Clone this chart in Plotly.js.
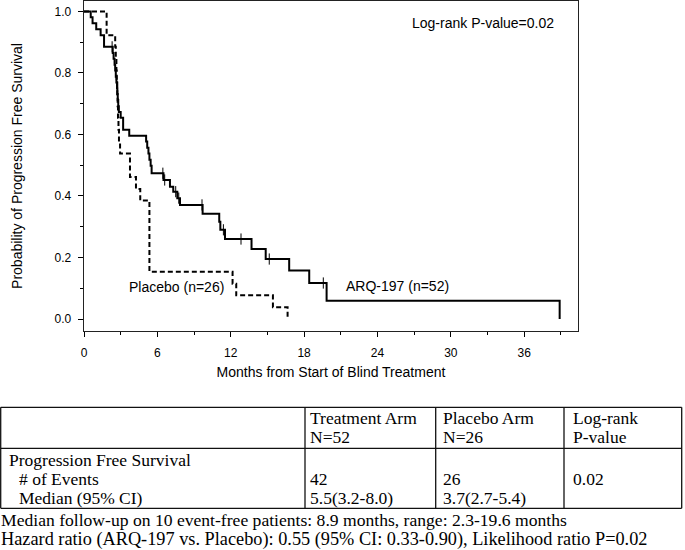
<!DOCTYPE html>
<html>
<head>
<meta charset="utf-8">
<script src="https://cdn.plot.ly/plotly-3.0.1.min.js"></script>
<style>html,body{margin:0;padding:0;background:#fff;}#chart{width:685px;height:550px;}</style>
</head>
<body>
<div id="chart"></div>
<script>
// ---- Data ----
// ARQ-197 (n=52): event times (months) and survival after each event
const arqTimes = [0, 0.55, 0.7, 1.0, 1.36, 1.64, 2.35, 2.42, 2.5, 2.55, 2.6, 2.65, 2.7, 2.73, 2.76, 2.8, 2.85,
  3.0, 3.2, 3.7, 5.08, 5.17, 5.27, 5.35, 5.45, 5.53, 6.5, 7.03, 7.3, 7.63, 7.85, 9.7, 11.06, 11.15, 11.53,
  13.7, 14.86, 16.78, 18.42, 19.84, 38.9];
const arqSurv = [1.0, 0.981, 0.962, 0.942, 0.923, 0.885, 0.865, 0.846, 0.827, 0.808, 0.788, 0.769, 0.75, 0.731, 0.712, 0.692, 0.673,
  0.654, 0.615, 0.596, 0.577, 0.557, 0.538, 0.518, 0.498, 0.474, 0.452, 0.43, 0.414, 0.393, 0.371, 0.342, 0.316, 0.29, 0.26,
  0.228, 0.195, 0.158, 0.117, 0.059, 0.0];
// ARQ-197 censored observations
const arqCensTimes = [2.3, 6.45, 6.6, 7.5, 7.75, 9.65, 11.4, 12.84, 15.15, 19.57];
const arqCensSurv = [0.885, 0.474, 0.452, 0.414, 0.393, 0.371, 0.29, 0.26, 0.195, 0.117];

// Placebo (n=26)
const pboTimes = [0, 1.85, 2.55, 2.6, 2.65, 2.68, 2.72, 2.75, 2.78, 2.82, 2.86, 2.95, 3.76, 4.25, 4.6, 5.35, 12.15, 12.45, 15.45, 16.65];
const pboSurv = [1.0, 0.923, 0.885, 0.846, 0.808, 0.769, 0.731, 0.692, 0.654, 0.615, 0.577, 0.538, 0.462, 0.423, 0.385, 0.154, 0.115, 0.077, 0.038, 0.0];

// Table contents
const headerCols = [["Treatment Arm", "N=52"], ["Placebo Arm", "N=26"], ["Log-rank", "P-value"]];
const rowLabels = ["Progression Free Survival", "# of Events", "Median (95% CI)"];
const eventsRow = ["42", "26", "0.02"];
const medianRow = ["5.5(3.2-8.0)", "3.7(2.7-5.4)", ""];
const footnotes = ["Median follow-up on 10 event-free patients: 8.9 months, range: 2.3-19.6 months",
  "Hazard ratio (ARQ-197 vs. Placebo): 0.55 (95% CI: 0.33-0.90), Likelihood ratio P=0.02"];

// ---- Layout geometry (pixels) ----
const W = 685, H = 550;
const L = 84, R = 578, T = 1, B = 331;
const px = x => (x - L) / (R - L);
const py = y => (B - y) / (B - T);

const serif = "Liberation Serif, Times New Roman, serif";
const sans = "Liberation Sans, Arial, sans-serif";

const traces = [
  {x: pboTimes, y: pboSurv, type: "scatter", mode: "lines", line: {shape: "hv", color: "#000", width: 2, dash: "5px,3px"}, hoverinfo: "skip", showlegend: false},
  {x: arqTimes, y: arqSurv, type: "scatter", mode: "lines", line: {shape: "hv", color: "#000", width: 2}, hoverinfo: "skip", showlegend: false},
  {x: arqCensTimes, y: arqCensSurv, type: "scatter", mode: "markers", marker: {symbol: "line-ns-open", size: 8, color: "#000", line: {width: 1, color: "#000"}}, hoverinfo: "skip", showlegend: false}
];

const shapes = [];
const lineStyle = {color: "#111", width: 1.3};
const tableLeft = 0.7, tableRight = 681.7, tableTop = 407.3, headerBot = 448.3, tableBot = 508.3;
const colX = [305, 435.7, 564];
[tableTop, headerBot, tableBot].forEach(y => shapes.push({type: "line", xref: "paper", yref: "paper", x0: px(tableLeft), x1: px(tableRight), y0: py(y), y1: py(y), line: lineStyle}));
[tableLeft, ...colX, tableRight].forEach(x => shapes.push({type: "line", xref: "paper", yref: "paper", x0: px(x), x1: px(x), y0: py(tableTop), y1: py(tableBot), line: lineStyle}));

const annotations = [];
function addText(text, x, y, size) {
  annotations.push({text: text, xref: "paper", yref: "paper", x: px(x), y: py(y), xanchor: "left", yanchor: "middle", showarrow: false,
    font: {family: serif, size: size || 17.5, color: "#000"}});
}
const textX = [308, 440.5, 570.5];
headerCols.forEach((c, i) => { addText(c[0], textX[i], 418); addText(c[1], textX[i], 437); });
addText(rowLabels[0], 7, 460);
addText(rowLabels[1], 17, 479);
addText(rowLabels[2], 17, 498);
eventsRow.forEach((v, i) => addText(v, textX[i], 479));
medianRow.forEach((v, i) => { if (v) addText(v, textX[i], 498); });
addText(footnotes[0], -1, 520, 17.6);
addText(footnotes[1], -1, 539, 18.3);

// Plot labels
annotations.push({text: "Log-rank P-value=0.02", xref: "x", yref: "y", x: 38.6, y: 0.961, xanchor: "right", yanchor: "middle", showarrow: false, font: {family: sans, size: 14, color: "#000"}});
annotations.push({text: "Placebo (n=26)", xref: "x", yref: "y", x: 3.49, y: 0.104, xanchor: "left", yanchor: "middle", showarrow: false, font: {family: sans, size: 14, color: "#000"}});
annotations.push({text: "ARQ-197 (n=52)", xref: "x", yref: "y", x: 21.26, y: 0.108, xanchor: "left", yanchor: "middle", showarrow: false, font: {family: sans, size: 14, color: "#000"}});

const layout = {
  width: W, height: H,
  margin: {l: L, r: W - R, t: T, b: H - B, pad: 0},
  paper_bgcolor: "#fff", plot_bgcolor: "#fff",
  showlegend: false,
  font: {family: sans, color: "#000"},
  xaxis: {
    range: [0, 40.4], tick0: 0, dtick: 6, ticks: "outside", ticklen: 5, tickwidth: 1, tickcolor: "#000",
    minor: {dtick: 3, ticks: "outside", ticklen: 3, tickwidth: 1, tickcolor: "#000"},
    showline: true, mirror: true, linecolor: "#222", linewidth: 1.3, showgrid: false, zeroline: false,
    tickfont: {family: sans, size: 12, color: "#000"}, ticklabelstandoff: 5,
    title: {text: "Months from Start of Blind Treatment", font: {family: sans, size: 14, color: "#000"}, standoff: 8},
    fixedrange: true
  },
  yaxis: {
    range: [-0.039, 1.034], tick0: 0, dtick: 0.2, tickformat: ".1f", ticks: "outside", ticklen: 5, tickwidth: 1, tickcolor: "#000",
    minor: {dtick: 0.1, ticks: "outside", ticklen: 3, tickwidth: 1, tickcolor: "#000"},
    showline: true, mirror: true, linecolor: "#222", linewidth: 1.3, showgrid: false, zeroline: false,
    tickfont: {family: sans, size: 12, color: "#000"}, ticklabelstandoff: 4,
    title: {text: "Probability of Progression Free Survival", font: {family: sans, size: 14, color: "#000"}, standoff: 28},
    fixedrange: true
  },
  shapes: shapes,
  annotations: annotations
};

Plotly.newPlot("chart", traces, layout, {staticPlot: true, displayModeBar: false});
</script>
</body>
</html>
